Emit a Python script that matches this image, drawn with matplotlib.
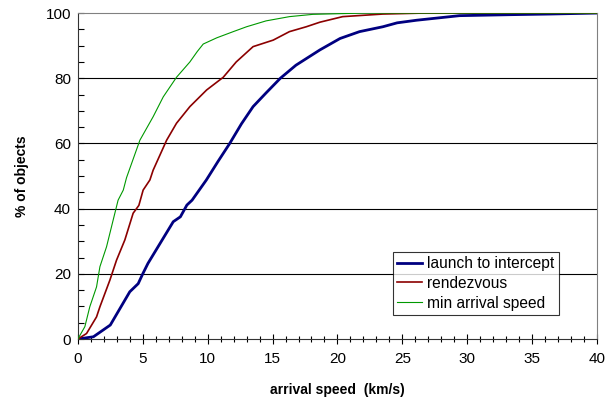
import matplotlib
matplotlib.use("Agg")
import matplotlib.pyplot as plt
from matplotlib.ticker import MultipleLocator

plt.rcParams["font.family"] = ["Liberation Sans", "DejaVu Sans"]

# cumulative distributions of arrival speed (km/s vs % of objects)
intercept_speed = [0, 1.2, 2.5, 4.0, 4.65, 5.0, 5.4, 7.35, 7.9, 8.4, 8.8, 9.9, 10.8, 11.7, 12.6,
                   13.5, 14.5, 15.6, 16.8, 18.65, 20.2, 21.7, 23.5, 24.6, 26.1, 29.4, 33.3,
                   36.4, 40]
intercept_pct = [0, 0.7, 4.3, 14.5, 17, 20, 23.2, 36, 37.5, 41.1, 42.6, 48.8, 54.5, 60, 66,
                 71.3, 75.5, 80, 84, 88.7, 92.2, 94.3, 95.8, 97, 97.8, 99.2, 99.5,
                 99.7, 100]

rendezvous_speed = [0, 0.67, 1.44, 1.7, 2.47, 2.98, 3.62, 4.26, 4.7, 5.03, 5.55, 5.8, 6.84,
                    7.6, 8.63, 9.92, 11.2, 12.2, 13.5, 15.05, 16.3, 17.6, 18.65, 20.4,
                    23.5, 26.6, 40]
rendezvous_pct = [0, 1.7, 6.8, 9.9, 18.1, 24.2, 30.4, 38.6, 41, 45.7, 48.8, 51.8, 61,
                  66.2, 71.3, 76.4, 80.3, 85, 89.7, 91.7, 94.3, 95.8, 97.2, 98.9,
                  99.7, 100, 100]

min_speed = [0, 0.54, 0.92, 1.44, 1.7, 2.21, 2.72, 3.1, 3.5, 3.75, 4.78, 5.8, 6.58, 7.6,
             8.63, 9.2, 9.66, 10.7, 11.97, 13.0, 14.5, 16.3, 18.1, 22, 40]
min_pct = [0, 3.8, 9.9, 16, 22.2, 28.3, 36.5, 42.6, 45.7, 49.5, 61, 68.2, 74.3, 80.3,
           85, 88.2, 90.5, 92.4, 94.3, 95.8, 97.6, 98.9, 99.6, 100, 100]

fig = plt.figure(figsize=(6.13, 4.08), dpi=100)
ax = fig.add_axes([0.127, 0.169, 0.847, 0.799])

for y in (20, 40, 60, 80):
    ax.axhline(y, color="black", lw=0.8, zorder=1)

ax.plot(intercept_speed, intercept_pct, color="#000080", lw=2.0, label="launch to intercept", zorder=3)
ax.plot(rendezvous_speed, rendezvous_pct, color="#8B0000", lw=1.2, label="rendezvous", zorder=3)
ax.plot(min_speed, min_pct, color="#009900", lw=0.8, label="min arrival speed", zorder=3)

ax.set_xlim(0, 40)
ax.set_ylim(0, 100)
ax.xaxis.set_major_locator(MultipleLocator(5))
ax.xaxis.set_minor_locator(MultipleLocator(1))
ax.yaxis.set_major_locator(MultipleLocator(20))
ax.yaxis.set_minor_locator(MultipleLocator(5))
ax.tick_params(axis="x", which="major", direction="inout", length=7, width=0.8, labelsize=11, pad=6)
ax.tick_params(axis="x", which="minor", direction="inout", length=5, width=0.8)
ax.tick_params(axis="y", which="major", direction="in", length=4, width=0.8, labelsize=11, pad=5)
ax.tick_params(axis="y", which="minor", direction="in", length=4, width=0.8)

for side in ("top", "right"):
    ax.spines[side].set_color("#808080")
ax.spines["left"].set_color("#333333")
ax.spines["bottom"].set_color("#333333")

ax.set_xlabel("arrival speed  (km/s)", fontsize=10, fontweight="bold", labelpad=12)
ax.set_ylabel("% of objects", fontsize=10, fontweight="bold", labelpad=12)

leg = ax.legend(loc="lower right", bbox_to_anchor=(0.926, 0.073), fontsize=11.2, frameon=True,
                fancybox=False, edgecolor="black", handlelength=1.6, handletextpad=0.3,
                borderpad=0.3, labelspacing=0.3, borderaxespad=0)
leg.get_frame().set_linewidth(0.8)

fig.savefig("out.png", dpi=100)
